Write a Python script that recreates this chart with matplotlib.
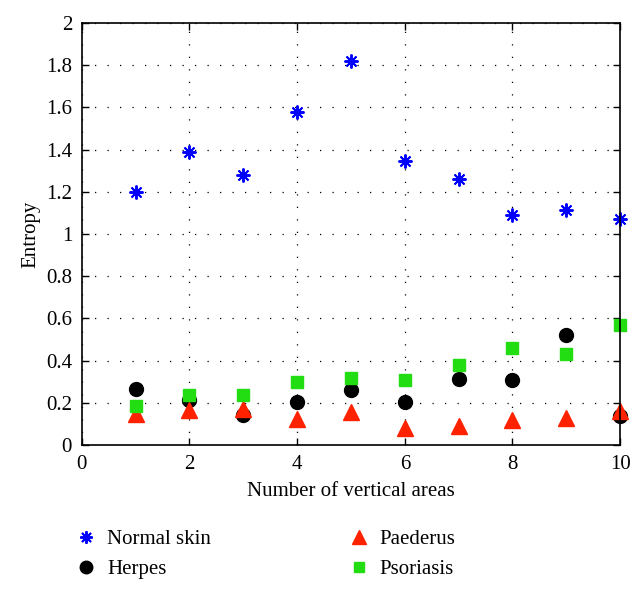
import numpy as np
import matplotlib.pyplot as plt
from matplotlib.ticker import FormatStrFormatter

areas = [1, 2, 3, 4, 5, 6, 7, 8, 9, 10]
normal_skin = [1.20, 1.39, 1.28, 1.58, 1.82, 1.345, 1.26, 1.09, 1.115, 1.07]
herpes = [0.267, 0.215, 0.141, 0.202, 0.262, 0.202, 0.315, 0.308, 0.52, 0.137]
paederus = [0.149, 0.164, 0.172, 0.125, 0.157, 0.08, 0.09, 0.12, 0.128, 0.163]
psoriasis = [0.183, 0.239, 0.239, 0.299, 0.319, 0.307, 0.378, 0.46, 0.433, 0.567]

plt.rcParams['font.family'] = ['Liberation Serif', 'DejaVu Serif']

fig = plt.figure(figsize=(6.44, 5.91), dpi=100)
ax = fig.add_axes([0.127, 0.247, 0.836, 0.714])

asterisk = (8, 2, 0)
ax.plot(areas, normal_skin, marker=asterisk, color='#0000ff', markersize=10, markeredgewidth=1.4,
        linestyle='none', clip_on=False, label='Normal skin')
ax.plot(areas, herpes, 'o', color='black', markersize=10, linestyle='none', clip_on=False, label='Herpes')
ax.plot(areas, paederus, '^', color='#ff2200', markersize=11, linestyle='none', clip_on=False, label='Paederus')
ax.plot(areas, psoriasis, 's', color='#22dd11', markersize=8, linestyle='none', clip_on=False, label='Psoriasis')

ax.set_xlim(0, 10)
ax.set_ylim(0, 2)
ax.set_xticks(np.arange(0, 11, 2))
ax.set_yticks(np.arange(0, 2.01, 0.2))
ax.yaxis.set_major_formatter(FormatStrFormatter('%g'))
ax.grid(True, color='black', linestyle=(0, (1, 9)), linewidth=0.9)
ax.set_axisbelow(True)
ax.tick_params(direction='in', top=True, right=True, length=5, labelsize=15, width=1, pad=7)
for s in ax.spines.values():
    s.set_linewidth(1.2)

ax.set_xlabel('Number of vertical areas', fontsize=15, labelpad=6)
ax.set_ylabel('Entropy', fontsize=15, labelpad=4)

fig.legend(loc='upper left', bbox_to_anchor=(0.118, 0.104), ncol=2, frameon=False,
           fontsize=15, handlelength=1.0, handletextpad=0.5, columnspacing=6.6, labelspacing=0.5,
           markerscale=0.9, borderaxespad=0, borderpad=0)

fig.savefig('out.png', dpi=100)
